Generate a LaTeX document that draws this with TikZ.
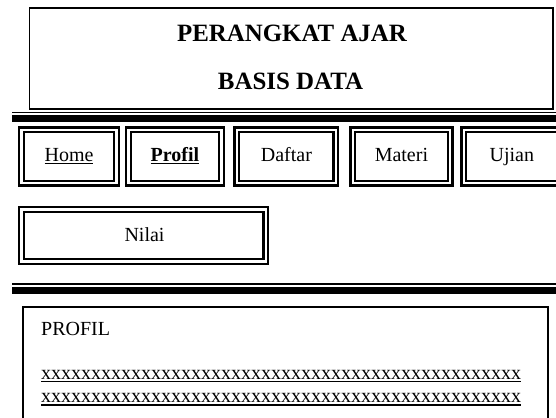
\documentclass[tikz,border=0pt]{standalone}
\usepackage{fontspec}
\setmainfont{Liberation Serif}
\begin{document}
\begin{tikzpicture}[x=1pt,y=-1pt,
  navbox/.style={draw, double, line width=2.3pt, double distance=2.4pt, inner sep=0pt},
  hdr/.style={anchor=base, inner sep=0pt, font=\fontsize{24.9}{30}\selectfont\bfseries},
  navtxt/.style={anchor=base, inner sep=0pt, font=\fontsize{20}{24}\selectfont},
  bodytxt/.style={anchor=base west, inner sep=0pt, font=\fontsize{20}{24}\selectfont},
  thinrule/.style={line width=1.5pt},
  thickrule/.style={line width=6.8pt}]
\useasboundingbox (0,0) rectangle (556,417);
\clip (0,0) rectangle (556,417);
% header
\draw[line width=1.8pt] (29.5,8) rectangle (553.3,109);
\node[hdr] (h1) at (292,41.7) {PERANGKAT AJAR};
\node[hdr] (h2) at (290.5,90) {BASIS DATA};
% rules under header
\coordinate (r1a) at (12,112.3); \coordinate (r1b) at (560,112.3);
\coordinate (r2a) at (12,118.5); \coordinate (r2b) at (560,118.5);
\draw[thinrule] (r1a) -- (r1b);
\draw[thickrule] (r2a) -- (r2b);
% nav boxes
\node[navbox, minimum width=94.75pt, minimum height=53.15pt] (home) at (69.0,156.5) {};
\node[navbox, minimum width=93.2pt, minimum height=53.15pt] (profil) at (175.05,156.5) {};
\node[navbox, minimum width=99.1pt, minimum height=53.15pt] (daftar) at (286.35,156.5) {};
\node[navbox, minimum width=97.2pt, minimum height=53.15pt] (materi) at (401.4,156.5) {};
\node[navbox, minimum width=96pt, minimum height=53.15pt] (ujian) at (511.8,156.5) {};
\node[navtxt] (homet) at (69,161.7) {\underline{Home}};
\node[navtxt] (profilt) at (175,161.7) {\underline{\textbf{Profil}}};
\node[navtxt] (daftart) at (286.4,161.7) {Daftar};
\node[navtxt] (materit) at (401.4,161.7) {Materi};
\node[navtxt] (ujiant) at (511.8,161.7) {Ujian};
\node[navbox, minimum width=244.05pt, minimum height=51.8pt] (nilai) at (143.7,235.5) {};
\node[navtxt] (nilait) at (144.5,241.7) {Nilai};
% second rules
\coordinate (r3a) at (12,284); \coordinate (r3b) at (560,284);
\coordinate (r4a) at (12,290.8); \coordinate (r4b) at (560,290.8);
\draw[thinrule] (r3a) -- (r3b);
\draw[thickrule] (r4a) -- (r4b);
% content
\draw[line width=2pt] (23,440) -- (23,307) -- (547.5,307) -- (547.5,440);
\node[bodytxt] (prof) at (41,335) {PROFIL};
\node[bodytxt] (x1) at (41,379.3) {xxxxxxxxxxxxxxxxxxxxxxxxxxxxxxxxxxxxxxxxxxxxxxxx};
\node[bodytxt] (x2) at (41,402.3) {xxxxxxxxxxxxxxxxxxxxxxxxxxxxxxxxxxxxxxxxxxxxxxxx};
\draw[line width=1.1pt] ([yshift=-2.2pt]x1.south west) -- ([yshift=-2.2pt]x1.south east);
\draw[line width=1.6pt] ([yshift=-2.2pt]x2.south west) -- ([yshift=-2.2pt]x2.south east);
\end{tikzpicture}
\end{document}
